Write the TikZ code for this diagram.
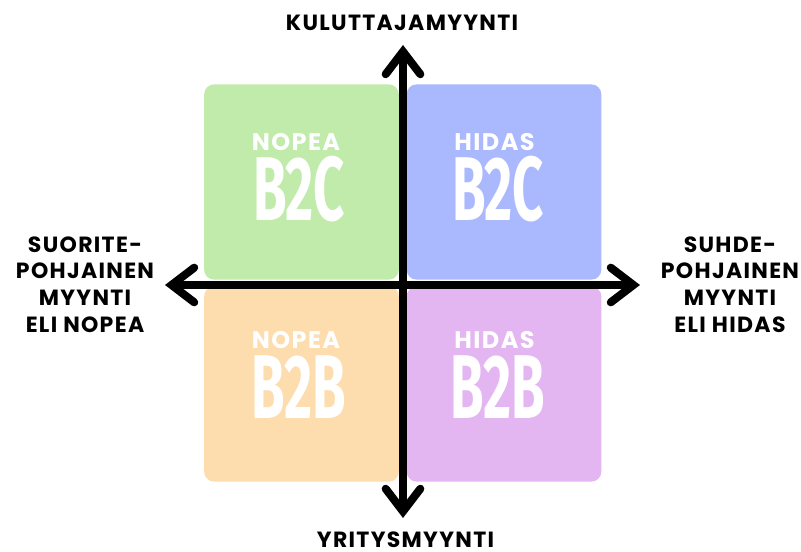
\documentclass[tikz,border=0pt]{standalone}
\usepackage{fontspec}
\setmainfont{Poppins}
\newfontfamily\labelfont[LetterSpace=6]{Poppins}
\newfontfamily\bigfont[FakeStretch=0.6]{Fira Sans}
\usepackage{tikz}
\usetikzlibrary{arrows.meta,calc}
\definecolor{nopeaC}{RGB}{193,235,171}
\definecolor{hidasC}{RGB}{170,185,253}
\definecolor{nopeaB}{RGB}{253,221,173}
\definecolor{hidasB}{RGB}{227,182,242}

\begin{document}
\begin{tikzpicture}[x=0.75pt,y=-0.75pt,
  quad/.style={rounded corners=7.5pt,minimum width=146pt,minimum height=146.5pt,inner sep=0pt},
  speed/.style={text=white,font=\labelfont\fontsize{18}{18}\selectfont\bfseries,inner sep=0pt},
  market/.style={text=white,font=\bigfont\fontsize{68}{68}\selectfont\bfseries,inner sep=0pt},
  axislabel/.style={font=\labelfont\fontsize{16.5}{20}\selectfont\bfseries,align=center,inner sep=0pt},
  axis/.style={line width=6pt,{Straight Barb[length=17pt,width=26pt,line cap=round,line join=miter]}-{Straight Barb[length=17pt,width=26pt,line cap=round,line join=miter]}}]
\useasboundingbox (0,0) rectangle (801,552);

\node[quad,fill=nopeaC] (nw) at (301.5,182) {};
\node[quad,fill=hidasC] (ne) at (504,182) {};
\node[quad,fill=nopeaB] (sw) at (301.5,384) {};
\node[quad,fill=hidasB] (se) at (504,384) {};

\node[speed] (nwspeed) at (296,142) {NOPEA};
\node[market] (nwmarket) at (299,189) {B2C};
\node[speed] (nespeed) at (494.5,142) {HIDAS};
\node[market] (nemarket) at (498,189) {B2C};
\node[speed] (swspeed) at (296,340.5) {NOPEA};
\node[market] (swmarket) at (299,387) {B2B};
\node[speed] (sespeed) at (494.5,340.5) {HIDAS};
\node[market] (semarket) at (498,387) {B2B};

\coordinate (top) at (403,45);
\coordinate (bottom) at (403,518);
\coordinate (left) at (165,285);
\coordinate (right) at (640,285);
\draw[axis] (top) -- (bottom);
\draw[axis] (left) -- (right);

\node[axislabel] (kulutt) at (402,22.5) {KULUTTAJAMYYNTI};
\node[axislabel] (yritys) at (405.5,539.5) {YRITYSMYYNTI};
\node[axislabel] (nopea) at (85,284.5) {SUORITE-\\POHJAINEN\\MYYNTI\\ELI NOPEA};
\node[axislabel] (hidas) at (730,284.5) {SUHDE-\\POHJAINEN\\MYYNTI\\ELI HIDAS};
\end{tikzpicture}
\end{document}
